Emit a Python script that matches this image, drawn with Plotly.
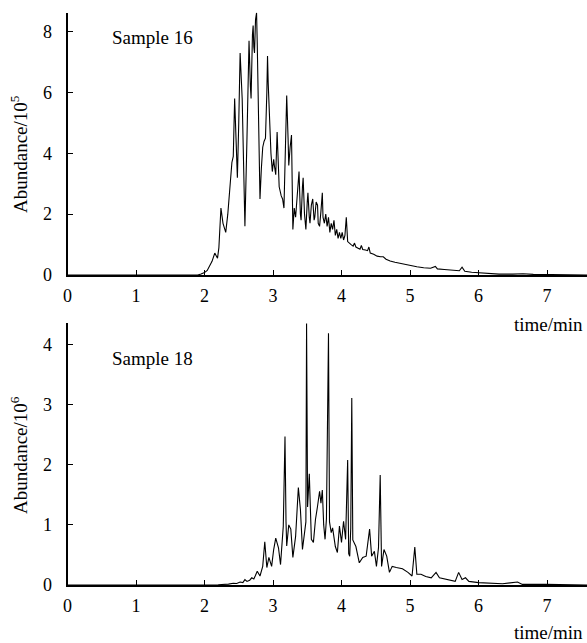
import plotly.graph_objects as go
from plotly.subplots import make_subplots

# Sample 16 (abundance in units of 1e5)
s16_time = [0, 1.0, 1.9, 1.95, 2.00, 2.04, 2.07, 2.11, 2.15, 2.19, 2.21, 2.24, 2.27, 2.31, 2.34, 2.37,
            2.40, 2.42, 2.44, 2.46, 2.48, 2.50, 2.52, 2.55, 2.57, 2.59, 2.62, 2.65, 2.67, 2.68, 2.70,
            2.71, 2.72, 2.73, 2.745, 2.76, 2.77, 2.79, 2.81, 2.83, 2.85, 2.87, 2.89, 2.91, 2.92, 2.93,
            2.95, 2.97, 2.99, 3.01, 3.02, 3.04, 3.06, 3.08, 3.09, 3.12, 3.14, 3.16, 3.18, 3.20, 3.22,
            3.23, 3.25, 3.27, 3.29, 3.31, 3.33, 3.35, 3.38, 3.40, 3.41, 3.43, 3.44, 3.46, 3.48, 3.50,
            3.51, 3.53, 3.54, 3.56, 3.58, 3.60, 3.61, 3.63, 3.65, 3.66, 3.68, 3.70, 3.72, 3.73, 3.75,
            3.77, 3.79, 3.81, 3.83, 3.85, 3.87, 3.89, 3.91, 3.93, 3.95, 3.97, 3.99, 4.01, 4.03, 4.05,
            4.07, 4.09, 4.11, 4.14, 4.17, 4.19, 4.21, 4.24, 4.27, 4.29, 4.31, 4.35, 4.38, 4.40, 4.42,
            4.47, 4.52, 4.57, 4.61, 4.65, 4.71, 4.78, 4.85, 4.92, 5.00, 5.10, 5.20, 5.30, 5.37, 5.40,
            5.50, 5.60, 5.72, 5.76, 5.80, 5.90, 6.00, 6.15, 6.30, 6.50, 6.65, 6.80, 7.00, 7.30, 7.60]
s16_abund = [0, 0, 0.0, 0.03, 0.08, 0.15, 0.28, 0.45, 0.72, 0.55, 0.9, 2.2, 1.7, 1.4, 2.0, 2.9,
             3.7, 3.9, 5.8, 4.5, 3.2, 5.0, 7.3, 5.8, 3.4, 1.6, 4.5, 7.7, 6.2, 5.8, 7.9,
             8.2, 7.5, 7.3, 8.4, 8.62, 7.6, 5.0, 2.5, 3.5, 4.2, 4.4, 4.5, 6.0, 7.2, 6.3,
             5.1, 4.0, 3.4, 3.8, 3.6, 3.3, 4.7, 3.6, 2.9, 2.6, 2.5, 2.2, 4.0, 5.9, 4.5,
             3.6, 4.2, 4.6, 1.5, 2.2, 1.9, 2.6, 3.4, 2.0, 1.8, 2.9, 3.2, 2.0, 1.5, 2.4,
             2.7, 1.9, 1.7, 2.3, 2.5, 1.8, 1.9, 2.4, 2.3, 1.7, 1.6, 2.1, 2.7, 1.9, 1.7,
             2.0, 1.6, 1.9, 1.4, 1.7, 1.5, 1.8, 1.3, 1.5, 1.2, 1.4, 1.2, 1.4, 1.15, 1.3,
             1.9, 1.1, 1.05, 1.0, 0.95, 1.05, 0.92, 0.88, 0.85, 0.97, 0.84, 0.82, 0.8, 0.92, 0.72,
             0.68, 0.62, 0.6, 0.6, 0.52, 0.46, 0.42, 0.39, 0.35, 0.3, 0.27, 0.24, 0.22, 0.28, 0.2,
             0.18, 0.16, 0.14, 0.26, 0.12, 0.09, 0.07, 0.05, 0.03, 0.03, 0.04, 0.02, 0.01, 0.0, 0.0]

# Sample 18 (abundance in units of 1e6)
s18_time = [0, 1.0, 2.0, 2.2, 2.35, 2.42, 2.47, 2.52, 2.56, 2.59, 2.62, 2.66, 2.69, 2.72, 2.74, 2.77,
            2.81, 2.85, 2.88, 2.91, 2.94, 2.98, 3.01, 3.04, 3.08, 3.11, 3.15, 3.175, 3.19, 3.20, 3.23,
            3.26, 3.29, 3.33, 3.37, 3.40, 3.43, 3.46, 3.48, 3.49, 3.505, 3.53, 3.56, 3.59, 3.62, 3.65,
            3.68, 3.70, 3.72, 3.74, 3.76, 3.78, 3.81, 3.825, 3.85, 3.87, 3.91, 3.94, 3.97, 4.00, 4.03,
            4.06, 4.09, 4.105, 4.12, 4.135, 4.15, 4.165, 4.18, 4.21, 4.26, 4.31, 4.36, 4.41, 4.44, 4.48,
            4.51, 4.54, 4.565, 4.585, 4.62, 4.66, 4.70, 4.74, 4.80, 4.89, 4.97, 5.03, 5.07, 5.10, 5.16,
            5.23, 5.31, 5.38, 5.43, 5.57, 5.66, 5.71, 5.76, 5.81, 5.86, 6.00, 6.35, 6.57, 6.64, 6.98, 7.60]
s18_abund = [0, 0.005, 0.0, 0.005, 0.015, 0.03, 0.025, 0.05, 0.04, 0.09, 0.06, 0.08, 0.12, 0.1, 0.15, 0.23,
             0.15, 0.31, 0.72, 0.29, 0.46, 0.31, 0.59, 0.78, 0.62, 0.34, 0.98, 2.47, 1.05, 0.65, 1.0,
             0.93, 0.46, 0.81, 1.62, 1.26, 0.59, 0.87, 1.05, 4.35, 1.3, 1.85, 0.76, 0.71, 1.09, 1.31,
             1.56, 1.36, 1.58, 1.0, 0.76, 1.1, 4.19, 1.05, 0.87, 0.95, 0.64, 0.54, 0.98, 0.71, 1.06,
             0.76, 2.08, 0.52, 0.48, 0.95, 3.11, 0.75, 0.71, 0.64, 0.37, 0.46, 0.48, 0.93, 0.48, 0.56,
             0.31, 0.62, 1.83, 0.31, 0.59, 0.48, 0.21, 0.31, 0.29, 0.27, 0.21, 0.15, 0.63, 0.18, 0.18,
             0.14, 0.12, 0.21, 0.12, 0.08, 0.06, 0.21, 0.09, 0.12, 0.06, 0.04, 0.02, 0.05, 0.01, 0.01, 0.0]

x_ticks = [0, 1, 2, 3, 4, 5, 6, 7]
top_yticks = [0, 2, 4, 6, 8]
bottom_yticks = [0, 1, 2, 3, 4]

W, H = 587, 643
FONT = "Liberation Serif"

def px_x(p):
    return p / W

def px_y(p):
    return 1 - p / H

fig = make_subplots(rows=2, cols=1)
fig.add_trace(go.Scatter(x=s16_time, y=s16_abund, mode="lines",
                         line=dict(color="black", width=1.1), showlegend=False), row=1, col=1)
fig.add_trace(go.Scatter(x=s18_time, y=s18_abund, mode="lines",
                         line=dict(color="black", width=1.1), showlegend=False), row=2, col=1)

x_left = 67.5
x_dom = [px_x(x_left), 1.0]
x_max = (W - x_left) / 68.5

axis_common = dict(showline=True, linecolor="black", linewidth=2, ticks="inside",
                   ticklen=5, tickwidth=1, tickcolor="black", showgrid=False, zeroline=False,
                   automargin=False,
                   tickfont=dict(family=FONT, size=18, color="black"))

fig.update_xaxes(**axis_common, range=[0, x_max], tickvals=x_ticks, domain=x_dom,
                 ticklabelstandoff=3)
fig.update_yaxes(**axis_common, ticklabelstandoff=10)

fig.update_yaxes(range=[0, 8.63], tickvals=top_yticks, domain=[px_y(275), px_y(12.5)], row=1, col=1)
fig.update_yaxes(range=[0, 4.36], tickvals=bottom_yticks, domain=[px_y(585), px_y(323)], row=2, col=1)

txt = dict(family=FONT, size=19, color="black")
annotations = [
    dict(text="Sample 16", x=px_x(110), y=px_y(38), xanchor="left", yanchor="middle"),
    dict(text="Sample 18", x=px_x(110), y=px_y(358), xanchor="left", yanchor="middle"),
    dict(text="time/min", x=px_x(585), y=px_y(324), xanchor="right", yanchor="middle"),
    dict(text="time/min", x=px_x(585), y=px_y(632), xanchor="right", yanchor="middle"),
    dict(text="Abundance/10<sup>5</sup>", x=px_x(19), y=px_y(154), textangle=-90,
         xanchor="center", yanchor="middle"),
    dict(text="Abundance/10<sup>6</sup>", x=px_x(19), y=px_y(455), textangle=-90,
         xanchor="center", yanchor="middle"),
]
for a in annotations:
    a.update(xref="paper", yref="paper", showarrow=False, font=txt)

fig.update_layout(width=W, height=H, margin=dict(l=0, r=0, t=0, b=0, autoexpand=False),
                  plot_bgcolor="white", paper_bgcolor="white",
                  annotations=annotations)

fig.write_html("out.html", config={"displayModeBar": False},
               post_script="document.body.style.margin='0';document.body.style.overflow='hidden';")
